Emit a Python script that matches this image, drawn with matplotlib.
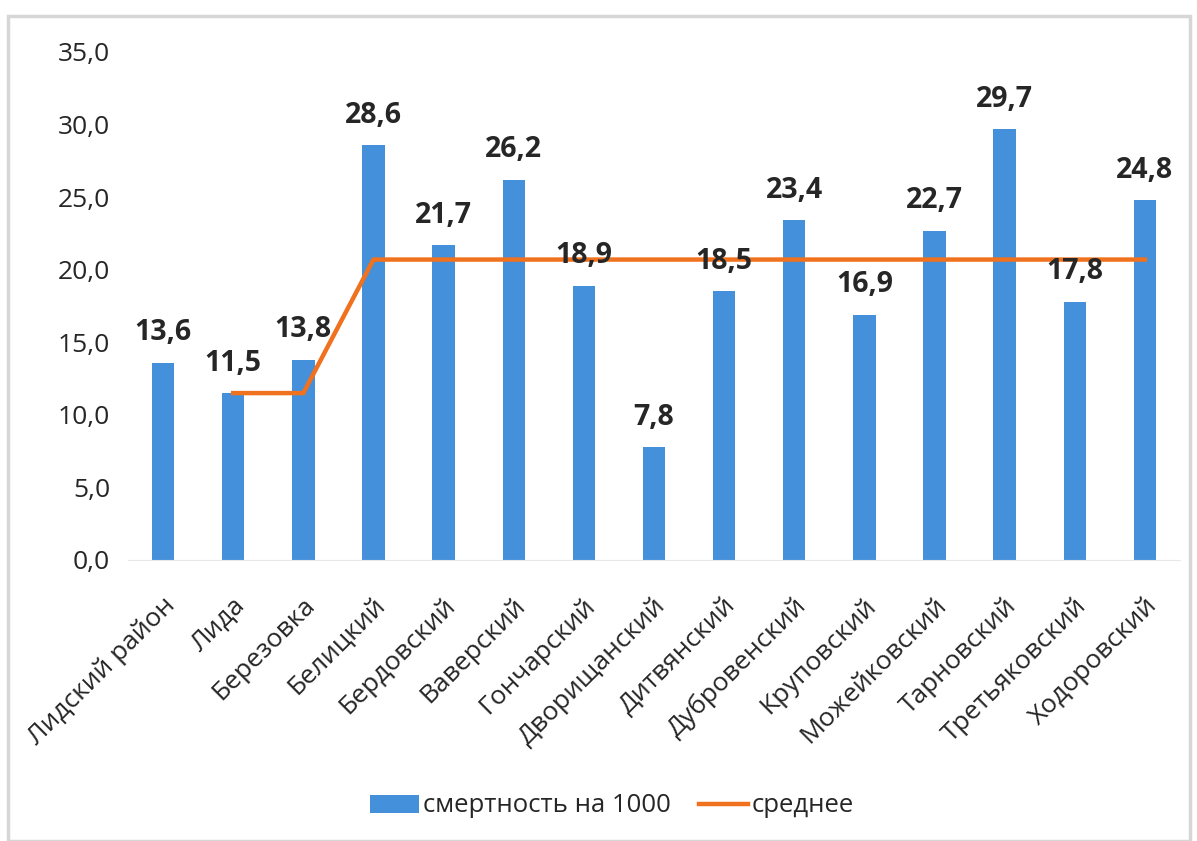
import matplotlib
matplotlib.use("Agg")
import matplotlib.pyplot as plt
import matplotlib.transforms as mtransforms
from matplotlib.patches import Rectangle, Patch
from matplotlib.lines import Line2D
import numpy as np

plt.rcParams['font.family'] = ['Open Sans', 'DejaVu Sans']

districts = ["Лидский район", "Лида", "Березовка", "Белицкий", "Бердовский",
             "Ваверский", "Гончарский", "Дворищанский", "Дитвянский",
             "Дубровенский", "Круповский", "Можейковский", "Тарновский",
             "Третьяковский", "Ходоровский"]
mortality = [13.6, 11.5, 13.8, 28.6, 21.7, 26.2, 18.9, 7.8, 18.5, 23.4,
             16.9, 22.7, 29.7, 17.8, 24.8]
average = [np.nan, 11.5, 11.5, 20.7, 20.7, 20.7, 20.7, 20.7, 20.7, 20.7,
           20.7, 20.7, 20.7, 20.7, 20.7]
y_ticks = [0, 5, 10, 15, 20, 25, 30, 35]

bar_color = "#4590da"
line_color = "#f0711e"
text_color = "#262626"

W, H = 1197, 841
fig = plt.figure(figsize=(W / 100, H / 100), dpi=100)
fig.patch.set_facecolor("white")

# chart frame
fig.patches.append(Rectangle((8 / W, 0.0), (1190 - 8) / W, (H - 16) / H,
                             transform=fig.transFigure, facecolor="none",
                             edgecolor="#d6d6d6", linewidth=2.5, zorder=-10))

ax = fig.add_axes([128 / W, (H - 560) / H, (1180 - 128) / W, (560 - 52) / H])
ax.set_facecolor("none")

x = np.arange(len(districts))
ax.bar(x, mortality, width=0.32, color=bar_color, zorder=2)
ax.plot(x, average, color=line_color, linewidth=3.2, zorder=3,
        solid_joinstyle="miter")

for xi, v in zip(x, mortality):
    ax.annotate(f"{v:.1f}".replace(".", ","), (xi, v), xytext=(0, 11),
                textcoords="offset points", ha="center", va="bottom",
                fontsize=20.5, fontweight="bold", color=text_color, zorder=4)

ax.set_xlim(-0.5, len(districts) - 0.5)
ax.set_ylim(0, 35)
ax.set_yticks(y_ticks)
ax.set_yticklabels([f"{t:.1f}".replace(".", ",") for t in y_ticks],
                   fontsize=19, color=text_color)
ax.tick_params(axis="y", length=0, pad=13)
ax.set_xticks(x)
ax.set_xticklabels(districts, rotation=45, ha="right", va="center",
                   rotation_mode="anchor", fontsize=19, color=text_color)
ax.tick_params(axis="x", length=0, pad=30)
offset = mtransforms.ScaledTranslation(8 / 100, 0, fig.dpi_scale_trans)
for lbl in ax.get_xticklabels():
    lbl.set_transform(lbl.get_transform() + offset)

for s in ["top", "right", "left"]:
    ax.spines[s].set_visible(False)
ax.spines["bottom"].set_color("#e8e8e8")

handles = [Patch(facecolor=bar_color, edgecolor="none"),
           Line2D([0], [0], color=line_color, linewidth=3.2)]
fig.legend(handles, ["смертность на 1000", "среднее"], loc="center",
           bbox_to_anchor=(612 / W, 1 - 806 / H), ncol=2, frameon=False,
           fontsize=18.5, handlelength=1.9, handleheight=0.7,
           handletextpad=0.15, columnspacing=1.1, labelcolor=text_color)

fig.savefig("out.png", dpi=100)
